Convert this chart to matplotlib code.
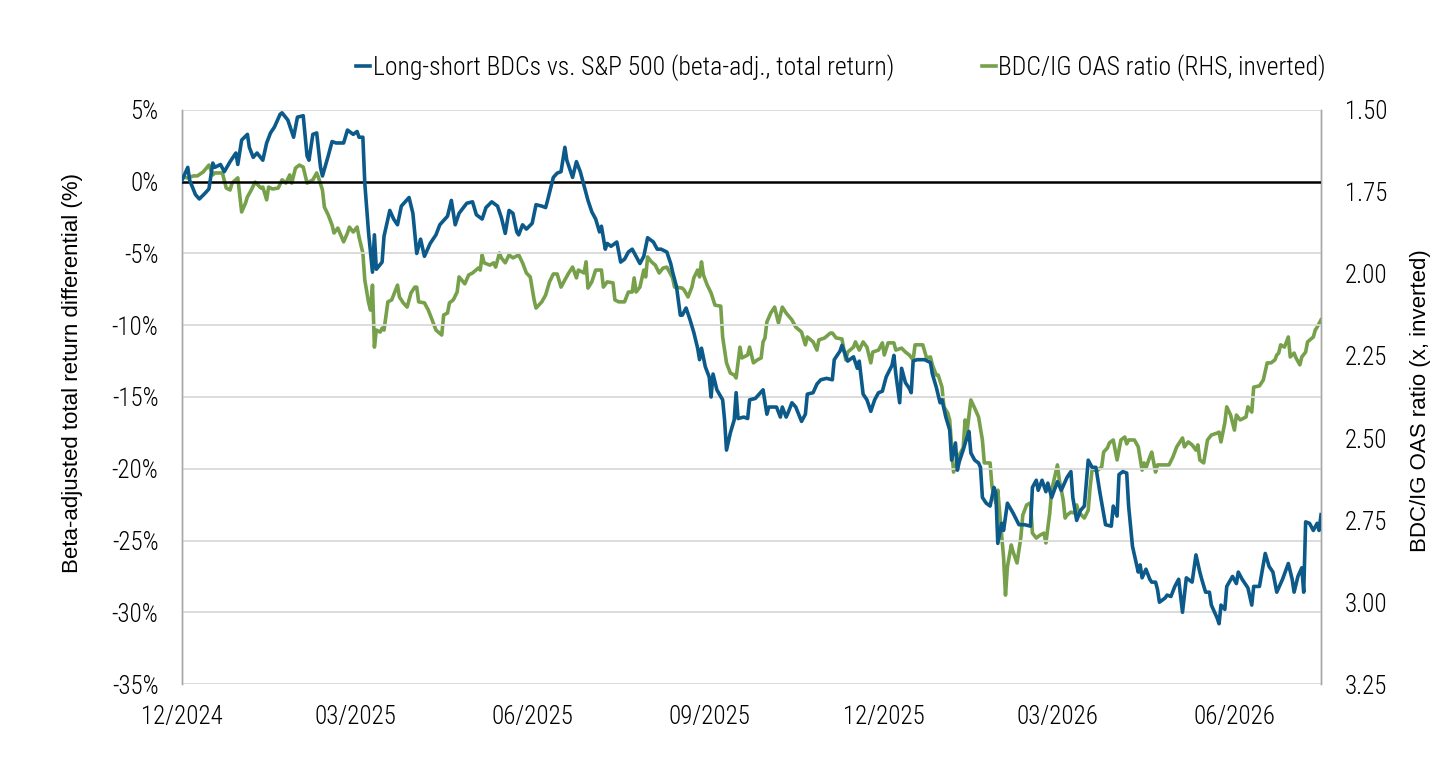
import matplotlib
matplotlib.use("Agg")
import matplotlib.pyplot as plt
import matplotlib.dates as mdates
import pandas as pd

# ---------------- data ----------------
start_date = "2024-12-01"
end_date = "2026-07-16"

# Long-short BDCs vs. S&P 500 (beta-adj., total return), % ; x = days since 1 Dec 2024
blue_days = [0, 3, 4, 7, 9, 12, 14, 16, 17, 20, 22, 25, 28, 29, 31, 34, 35, 37, 39, 42,
             44, 46, 48, 51, 52, 55, 58, 60, 63, 65, 66, 68, 70, 72, 73, 76, 78, 80, 84, 86,
             89, 91, 92, 94, 95, 97, 99, 100, 101, 104, 105, 108, 110, 112, 114, 118, 120, 122, 124, 126,
             129, 132, 134, 138, 140, 142, 144, 148, 151, 153, 156, 158, 161, 164, 166, 168, 170, 172, 174, 175,
             177, 179, 182, 184, 187, 189, 190, 193, 195, 197, 199, 200, 203, 205, 207, 209, 211, 213, 215, 217,
             218, 220, 221, 223, 226, 228, 230, 232, 234, 236, 238, 240, 242, 245, 247, 249, 252, 254, 255, 257,
             259, 260, 262, 264, 266, 268, 269, 270, 272, 274, 275, 276, 278, 281, 282, 283, 285, 287, 288, 289,
             292, 294, 295, 298, 300, 302, 304, 305, 309, 311, 312, 314, 315, 317, 319, 322, 324, 325, 328, 330,
             332, 335, 338, 339, 342, 343, 346, 349, 351, 352, 354, 356, 358, 360, 362, 364, 366, 369, 370, 371,
             373, 374, 376, 378, 379, 380, 382, 386, 389, 390, 392, 394, 395, 397, 399, 400, 402, 403, 404, 406,
             408, 409, 410, 412, 414, 415, 416, 418, 420, 422, 423, 424, 426, 427, 429, 432, 435, 438, 441, 442,
             444, 445, 447, 449, 450, 452, 455, 457, 460, 462, 463, 465, 467, 469, 470, 471, 473, 475, 477, 480,
             483, 484, 486, 487, 489, 491, 492, 494, 496, 497, 498, 499, 501, 503, 504, 506, 507, 508, 511, 512,
             514, 516, 518, 520, 522, 525, 527, 529, 530, 532, 534, 535, 538, 539, 540, 542, 543, 546, 548, 549,
             551, 554, 556, 557, 560, 563, 565, 567, 569, 572, 575, 577, 578, 580, 582, 583, 584, 586, 588, 590,
             591, 592]
blue_vals = [0.1, 1.0, 0.1, -0.9, -1.2, -0.8, -0.5, 1.3, 1.0, 1.2, 0.7, 1.4, 2.0, 1.2, 2.9, 3.3, 2.4, 1.7, 2.0, 1.5,
             2.7, 3.4, 3.8, 4.7, 4.8, 4.3, 3.1, 4.5, 4.6, 1.8, 1.5, 3.3, 3.4, 1.0, 0.4, 1.8, 2.8, 2.7, 2.7, 3.6,
             3.3, 3.5, 3.1, 3.1, -0.1, -3.6, -6.3, -3.7, -6.1, -5.6, -3.8, -2.0, -2.6, -3.0, -1.7, -1.1, -2.2, -5.0, -4.0, -5.2,
             -4.3, -3.7, -3.0, -2.4, -1.3, -3.0, -2.2, -1.5, -1.4, -2.3, -2.6, -1.8, -1.4, -1.7, -2.5, -3.6, -2.0, -2.2, -3.5, -3.7,
             -3.0, -3.3, -2.9, -1.6, -1.7, -1.8, -1.3, 0.3, 0.6, 0.7, 2.4, 1.5, 0.3, 1.4, 0.7, -0.3, -1.3, -2.1, -2.6, -3.5,
             -3.1, -4.7, -4.3, -4.5, -4.2, -5.6, -5.4, -4.9, -4.7, -5.2, -5.7, -5.2, -3.9, -4.2, -4.7, -4.7, -4.9, -5.7, -6.3, -7.3,
             -9.3, -9.3, -8.8, -9.6, -10.5, -11.6, -12.4, -11.6, -12.9, -13.6, -15.0, -13.4, -14.5, -15.2, -16.6, -18.7, -17.5, -16.6, -14.7, -16.5,
             -16.4, -16.5, -15.2, -15.1, -14.8, -14.5, -16.2, -15.7, -15.7, -16.4, -15.7, -16.4, -16.1, -15.4, -15.7, -16.7, -16.2, -14.8, -14.7, -14.1,
             -13.8, -13.7, -13.8, -12.4, -11.8, -11.4, -12.5, -12.2, -13.0, -12.5, -14.8, -15.2, -16.0, -15.2, -14.7, -14.6, -13.6, -12.8, -12.1, -13.4,
             -15.4, -13.0, -14.0, -14.4, -14.7, -12.5, -12.4, -12.4, -12.6, -13.4, -14.3, -15.4, -15.2, -16.4, -17.3, -19.4, -18.2, -20.1, -19.5, -18.7,
             -17.8, -17.4, -18.9, -19.4, -19.6, -19.9, -22.0, -22.4, -22.6, -21.3, -21.7, -25.2, -23.8, -24.3, -22.4, -23.1, -23.9, -23.9, -24.0, -21.3,
             -20.8, -21.5, -20.8, -21.6, -21.0, -22.0, -20.9, -21.5, -20.6, -20.2, -22.0, -23.6, -22.9, -22.6, -21.0, -19.4, -19.9, -19.9, -21.6, -23.9,
             -24.0, -22.6, -23.3, -20.4, -20.2, -20.3, -22.6, -25.4, -26.6, -27.2, -26.7, -27.6, -27.0, -27.7, -27.9, -27.9, -28.4, -29.3, -29.0, -28.8,
             -28.9, -28.2, -27.7, -30.0, -27.6, -27.9, -26.0, -27.2, -27.7, -28.6, -28.6, -29.5, -30.4, -30.8, -29.5, -29.8, -28.2, -27.5, -28.0, -27.2,
             -27.7, -28.3, -29.5, -28.2, -28.2, -25.9, -26.8, -27.2, -28.6, -27.7, -26.6, -27.7, -28.6, -27.5, -26.9, -28.6, -23.7, -23.8, -24.3, -23.8,
             -24.3, -23.2]

# BDC/IG OAS ratio (RHS, inverted), x ; x = days since 1 Dec 2024
green_days = [0, 3, 6, 8, 11, 14, 16, 17, 21, 23, 25, 26, 29, 31, 33, 34, 36, 38, 41, 42,
              44, 45, 47, 50, 52, 54, 56, 57, 59, 61, 63, 64, 65, 68, 70, 71, 73, 74, 76, 78,
              79, 81, 84, 86, 87, 89, 91, 92, 94, 95, 97, 98, 99, 100, 101, 103, 104, 105, 107, 109,
              112, 113, 115, 117, 119, 121, 122, 123, 126, 128, 130, 132, 135, 136, 138, 139, 141, 143, 144, 147,
              149, 151, 154, 155, 156, 157, 160, 162, 163, 165, 166, 168, 170, 172, 175, 177, 179, 181, 183, 184,
              187, 189, 191, 193, 195, 197, 199, 201, 203, 205, 206, 209, 210, 211, 213, 215, 218, 219, 221, 224,
              225, 227, 230, 232, 234, 235, 236, 238, 240, 241, 242, 244, 246, 248, 250, 252, 255, 256, 260, 261,
              263, 265, 266, 268, 269, 270, 271, 273, 275, 277, 280, 281, 283, 285, 287, 288, 290, 291, 294, 295,
              297, 299, 301, 302, 303, 304, 306, 308, 310, 312, 314, 317, 319, 322, 324, 325, 328, 330, 331, 334,
              337, 338, 340, 343, 345, 346, 349, 350, 352, 354, 356, 358, 359, 362, 364, 365, 367, 370, 371, 374,
              376, 378, 380, 381, 385, 387, 389, 390, 392, 393, 395, 396, 398, 399, 401, 403, 404, 406, 407, 408,
              410, 412, 414, 416, 417, 420, 421, 423, 424, 425, 427, 428, 429, 431, 432, 434, 436, 437, 439, 441,
              442, 444, 446, 448, 449, 451, 452, 455, 456, 458, 459, 460, 462, 464, 465, 466, 469, 471, 472, 473,
              476, 478, 479, 481, 482, 484, 486, 488, 490, 491, 492, 495, 497, 499, 500, 501, 503, 504, 506, 507,
              510, 513, 515, 517, 520, 521, 523, 525, 527, 528, 529, 531, 533, 535, 538, 539, 540, 542, 543, 545,
              547, 548, 550, 553, 554, 556, 557, 560, 562, 564, 566, 568, 569, 570, 571, 573, 575, 576, 578, 579,
              581, 582, 584, 585, 588, 589, 590, 592]
green_vals = [1.704, 1.707, 1.701, 1.701, 1.689, 1.668, 1.698, 1.692, 1.692, 1.738, 1.744, 1.723, 1.707, 1.811, 1.784, 1.765, 1.744, 1.720, 1.738, 1.735,
              1.774, 1.735, 1.741, 1.738, 1.713, 1.723, 1.698, 1.723, 1.677, 1.668, 1.674, 1.698, 1.723, 1.713, 1.692, 1.707, 1.744, 1.796, 1.820, 1.851,
              1.875, 1.860, 1.902, 1.875, 1.857, 1.872, 1.857, 1.887, 1.936, 2.018, 2.088, 2.110, 2.034, 2.223, 2.171, 2.177, 2.165, 2.171, 2.085, 2.079,
              2.034, 2.070, 2.088, 2.101, 2.058, 2.040, 2.040, 2.085, 2.088, 2.110, 2.140, 2.171, 2.186, 2.125, 2.119, 2.088, 2.079, 2.055, 2.009, 2.030,
              2.003, 1.997, 1.982, 1.988, 1.942, 1.966, 1.973, 1.966, 1.979, 1.936, 1.951, 1.966, 1.942, 1.951, 1.942, 1.966, 1.997, 2.009, 2.079, 2.104,
              2.085, 2.064, 2.024, 2.000, 2.000, 2.040, 2.018, 1.997, 1.979, 2.012, 1.988, 1.997, 1.963, 2.043, 2.024, 1.988, 1.988, 2.040, 2.024, 2.027,
              2.079, 2.085, 2.085, 2.055, 2.055, 2.012, 2.055, 2.040, 1.988, 2.009, 1.948, 1.963, 1.973, 1.997, 1.982, 1.979, 2.012, 2.040, 2.043, 2.049,
              2.070, 2.040, 2.012, 1.988, 2.009, 1.963, 2.003, 2.034, 2.058, 2.095, 2.098, 2.192, 2.271, 2.302, 2.308, 2.317, 2.223, 2.256, 2.247, 2.223,
              2.271, 2.262, 2.256, 2.207, 2.195, 2.146, 2.119, 2.101, 2.149, 2.101, 2.119, 2.140, 2.162, 2.177, 2.216, 2.192, 2.207, 2.232, 2.201, 2.195,
              2.180, 2.180, 2.195, 2.198, 2.262, 2.238, 2.223, 2.207, 2.232, 2.207, 2.223, 2.271, 2.238, 2.232, 2.210, 2.247, 2.210, 2.210, 2.232, 2.226,
              2.238, 2.247, 2.262, 2.216, 2.216, 2.256, 2.253, 2.277, 2.308, 2.308, 2.345, 2.405, 2.424, 2.445, 2.604, 2.573, 2.552, 2.530, 2.445, 2.482,
              2.384, 2.409, 2.436, 2.506, 2.576, 2.576, 2.649, 2.698, 2.659, 2.729, 2.863, 2.979, 2.893, 2.826, 2.848, 2.881, 2.802, 2.735, 2.704, 2.698,
              2.790, 2.805, 2.796, 2.790, 2.820, 2.729, 2.659, 2.582, 2.628, 2.689, 2.744, 2.735, 2.726, 2.729, 2.704, 2.726, 2.744, 2.720, 2.649, 2.598,
              2.598, 2.588, 2.543, 2.530, 2.515, 2.506, 2.567, 2.506, 2.497, 2.518, 2.506, 2.506, 2.527, 2.598, 2.576, 2.591, 2.558, 2.543, 2.604, 2.582,
              2.582, 2.582, 2.558, 2.527, 2.500, 2.527, 2.512, 2.521, 2.537, 2.521, 2.567, 2.576, 2.506, 2.491, 2.485, 2.482, 2.512, 2.454, 2.405, 2.430,
              2.476, 2.430, 2.445, 2.436, 2.405, 2.421, 2.345, 2.341, 2.323, 2.271, 2.271, 2.262, 2.247, 2.241, 2.216, 2.223, 2.192, 2.253, 2.241, 2.256,
              2.277, 2.253, 2.238, 2.207, 2.192, 2.171, 2.162, 2.140]

left_ticks = [5, 0, -5, -10, -15, -20, -25, -30, -35]
left_tick_labels = ["5%", "0%", "-5%", "-10%", "-15%", "-20%", "-25%", "-30%", "-35%"]
right_ticks = [1.50, 1.75, 2.00, 2.25, 2.50, 2.75, 3.00, 3.25]
right_tick_labels = ["1.50", "1.75", "2.00", "2.25", "2.50", "2.75", "3.00", "3.25"]

blue_label = "Long-short BDCs vs. S&P 500 (beta-adj., total return)"
green_label = "BDC/IG OAS ratio (RHS, inverted)"
left_axis_label = "Beta-adjusted total return differential (%)"
right_axis_label = "BDC/IG OAS ratio (x, inverted)"

# ---------------- style ----------------
BLUE = "#0C5A8A"
GREEN = "#76A04A"
GRID = "#D9D9D9"
COND = ["Roboto Condensed", "DejaVu Sans"]

t0 = pd.Timestamp(start_date)
blue_x = t0 + pd.to_timedelta(blue_days, unit="D")
green_x = t0 + pd.to_timedelta(green_days, unit="D")

fig = plt.figure(figsize=(14.56, 7.69), dpi=100)
ax = fig.add_axes([0.125, 0.1105, 0.7823, 0.7465])
ax2 = ax.twinx()

ax.set_zorder(ax2.get_zorder() + 1)
ax.patch.set_visible(False)

ax.plot(blue_x, blue_vals, color=BLUE, lw=2.6, zorder=4, label=blue_label)
ax2.plot(green_x, green_vals, color=GREEN, lw=2.6, zorder=3, label=green_label)

ax.set_ylim(-35, 5)
ax2.set_ylim(3.25, 1.50)
ax.set_xlim(t0, pd.Timestamp(end_date))

ax2.set_yticks(right_ticks)
for v in left_ticks:
    if v == 0:
        continue
    ax.axhline(v, color=GRID, lw=1.3, zorder=0.5)
ax.axhline(0, color="black", lw=1.8, zorder=3)

ax.set_yticks(left_ticks)
ax.set_yticklabels(left_tick_labels)
ax2.set_yticklabels(right_tick_labels)
ax.xaxis.set_major_locator(mdates.MonthLocator(bymonth=[3, 6, 9, 12]))
ax.xaxis.set_major_formatter(mdates.DateFormatter("%m/%Y"))

for a in (ax, ax2):
    for s in ("top", "bottom"):
        a.spines[s].set_visible(False)
    a.spines["left"].set_color("#A6A6A6")
    a.spines["right"].set_color("#A6A6A6")
    a.spines["left"].set_linewidth(1.0)
    a.spines["right"].set_linewidth(1.0)
    a.tick_params(length=0, colors="#000000")
for lab in ax.get_yticklabels() + ax.get_xticklabels() + ax2.get_yticklabels():
    lab.set_fontfamily(COND)
    lab.set_fontweight("light")
    lab.set_fontsize(18)
ax.tick_params(axis="y", pad=17)
ax.tick_params(axis="x", pad=15)
ax2.tick_params(axis="y", pad=17)

ax.set_ylabel(left_axis_label, fontsize=16, family="Liberation Sans")
ax.yaxis.set_label_coords(-0.0869, 0.542)
ax2.set_ylabel(right_axis_label, fontsize=16, family="Liberation Sans")
ax2.yaxis.set_label_coords(1.078, 0.493)

h1, l1 = ax.get_legend_handles_labels()
h2, l2 = ax2.get_legend_handles_labels()
leg = fig.legend(h1 + h2, l1 + l2, loc="center", bbox_to_anchor=(0.5777, 0.912), ncol=2,
                 frameon=False, handlelength=0.55, handletextpad=0.1, columnspacing=3.4,
                 prop=dict(family=COND, weight="light", size=18.5))

fig.savefig("out.png", dpi=100)
